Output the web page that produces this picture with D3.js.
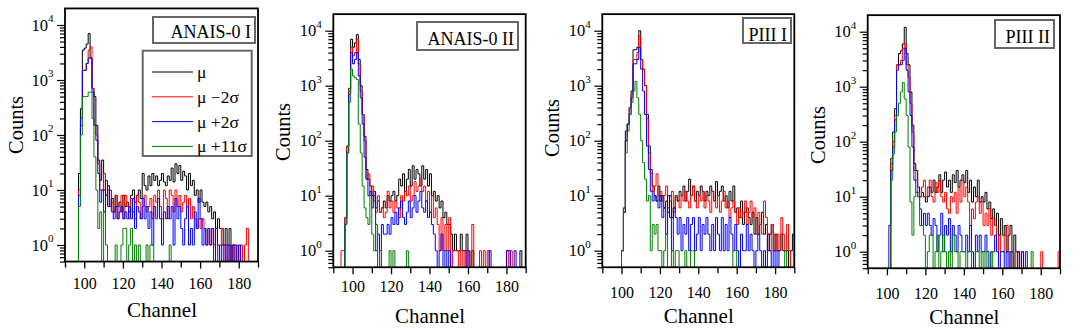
<!DOCTYPE html>
<html>
<head>
<meta charset="utf-8">
<script src="https://cdnjs.cloudflare.com/ajax/libs/d3/7.8.5/d3.min.js"></script>
<style>
  body { margin: 0; background: #fff; }
  svg text { font-family: "Liberation Serif", "Times New Roman", serif; fill: #000; }
</style>
</head>
<body>
<svg id="chart" width="1084" height="331"></svg>
<script>
// counts per channel, each array starts at its panel's first channel
const p1Start = 96; // ANAIS-0 I, channels 96..185
const p1Mu = [0, 20, 300, 3500, 3800, 4500, 7000, 2500, 700, 500,
  150, 35, 15, 35, 10, 8, 12, 5, 7, 4,
  8, 5, 6, 4, 8, 5, 6, 4, 8, 10,
  6, 8, 10, 7, 20, 12, 10, 18, 12, 20,
  15, 18, 12, 15, 20, 14, 12, 18, 15, 25,
  14, 30, 20, 28, 15, 22, 18, 10, 20, 12,
  15, 8, 10, 6, 10, 6, 5, 6, 4, 5,
  3, 4, 2, 3, 2, 2, 1, 2, 1, 2,
  0, 1, 0, 0, 0, 0, 0, 0, 0, 0];
const p1Minus2 = [0, 10, 150, 1500, 1500, 2000, 3500, 4000, 700, 150,
  100, 30, 10, 10, 20, 8, 10, 5, 6, 4,
  8, 3, 6, 8, 3, 8, 5, 3, 7, 4,
  3, 8, 6, 3, 5, 8, 4, 5, 7, 3,
  8, 6, 10, 5, 3, 10, 7, 3, 10, 8,
  4, 10, 5, 8, 4, 6, 8, 5, 7, 3,
  5, 3, 2, 3, 2, 3, 2, 1, 2, 1,
  2, 1, 2, 0, 1, 2, 1, 0, 1, 0,
  1, 1, 0, 1, 0, 1, 0, 1, 2, 0];
const p1Plus2 = [0, 8, 200, 1500, 1500, 2000, 2500, 2500, 600, 150,
  80, 20, 6, 10, 4, 15, 5, 10, 4, 3,
  5, 3, 4, 5, 3, 4, 3, 5, 3, 7,
  2, 5, 4, 3, 7, 3, 5, 2, 4, 1,
  5, 3, 7, 3, 1, 4, 3, 5, 3, 5,
  1, 7, 3, 5, 2, 1, 3, 5, 1, 2,
  1, 4, 2, 7, 3, 1, 2, 1, 2, 1,
  2, 0, 2, 1, 0, 1, 0, 1, 0, 1,
  0, 1, 1, 0, 1, 0, 0, 0, 0, 0];
const p1Plus11 = [0, 5, 100, 500, 500, 500, 600, 600, 200, 40,
  10, 2, 4, 0, 4, 1, 0, 0, 0, 0,
  1, 0, 0, 1, 2, 2, 0, 1, 2, 0,
  1, 0, 1, 0, 0, 0, 1, 0, 1, 1,
  0, 0, 0, 0, 0, 0, 0, 0, 1, 0,
  0, 0, 0, 0, 0, 0, 0, 0, 0, 0,
  0, 0, 0, 0, 0, 0, 0, 0, 0, 0,
  0, 0, 0, 0, 0, 0, 0, 0, 0, 0,
  0, 0, 0, 0, 0, 0, 0, 0, 0, 0];

const p2Start = 94; // ANAIS-0 II, channels 94..189
const p2Mu = [0, 0, 4, 80, 900, 7000, 5000, 6000, 8500, 3000,
  1000, 300, 120, 30, 20, 15, 10, 12, 6, 8,
  5, 6, 8, 6, 10, 8, 10, 12, 8, 10,
  20, 15, 25, 12, 20, 30, 15, 35, 20, 30,
  25, 15, 35, 20, 30, 15, 25, 10, 12, 8,
  10, 6, 8, 4, 5, 3, 3, 2, 1, 2,
  1, 1, 2, 1, 1, 2, 1, 0, 1, 0,
  0, 0, 0, 0, 0, 0, 0, 0, 0, 0,
  0, 0, 0, 0, 0, 0, 0, 0, 0, 0,
  0, 0, 0, 1, 0, 0];
const p2Minus2 = [1, 1, 4, 80, 800, 5000, 3500, 4000, 7000, 2500,
  800, 300, 100, 20, 25, 10, 15, 8, 5, 10,
  5, 6, 4, 5, 12, 6, 8, 5, 8, 6,
  4, 10, 8, 12, 10, 15, 8, 10, 18, 12,
  15, 20, 12, 15, 8, 12, 5, 10, 4, 6,
  3, 1, 4, 1, 3, 1, 4, 0, 1, 1,
  1, 0, 1, 0, 1, 0, 1, 0, 3, 0,
  0, 0, 1, 0, 1, 0, 1, 0, 0, 0,
  0, 0, 0, 0, 0, 0, 1, 0, 1, 0,
  0, 0, 0, 0, 0, 0];
const p2Plus2 = [0, 0, 3, 60, 700, 4000, 2500, 3000, 4000, 1500,
  600, 200, 50, 20, 10, 12, 6, 10, 1, 2,
  0, 3, 2, 2, 3, 2, 4, 3, 5, 3,
  6, 8, 4, 3, 5, 8, 4, 6, 10, 5,
  8, 12, 6, 5, 8, 4, 5, 3, 2, 1,
  0, 1, 2, 0, 1, 0, 1, 0, 0, 0,
  0, 0, 0, 0, 0, 1, 0, 0, 0, 0,
  0, 0, 0, 0, 0, 0, 0, 1, 0, 0,
  0, 0, 0, 0, 0, 0, 1, 1, 0, 0,
  1, 0, 0, 0, 0, 0];
const p2Plus11 = [0, 0, 3, 60, 500, 2000, 1500, 1400, 1300, 200,
  60, 15, 6, 4, 3, 10, 2, 1, 3, 0,
  1, 0, 0, 0, 0, 1, 0, 1, 0, 0,
  0, 0, 0, 0, 1, 0, 0, 0, 0, 0,
  0, 0, 0, 0, 0, 0, 0, 0, 0, 0,
  0, 0, 0, 0, 0, 0, 0, 0, 0, 0,
  0, 0, 0, 0, 0, 0, 0, 0, 0, 0,
  0, 0, 0, 0, 0, 0, 0, 0, 0, 0,
  0, 0, 0, 0, 0, 0, 0, 0, 0, 0,
  0, 0, 0, 0, 0, 0];

const p3Start = 100; // PIII I, channels 100..189
const p3Mu = [1, 6, 150, 200, 400, 800, 4500, 4500, 5000, 10000,
  3000, 2000, 1000, 300, 80, 30, 15, 10, 8, 15,
  8, 10, 6, 8, 5, 10, 4, 6, 10, 8,
  12, 10, 15, 8, 12, 20, 10, 15, 8, 12,
  10, 15, 12, 8, 12, 10, 15, 12, 8, 18,
  10, 12, 15, 8, 10, 6, 12, 8, 15, 5,
  6, 4, 8, 3, 5, 6, 4, 3, 5, 2,
  4, 2, 3, 5, 2, 3, 1, 2, 3, 1,
  2, 1, 1, 2, 1, 1, 1, 0, 1, 2];
const p3Minus2 = [1, 5, 100, 200, 400, 700, 3000, 3000, 4000, 8000,
  3000, 2000, 1000, 250, 60, 25, 12, 15, 25, 10,
  12, 8, 10, 15, 6, 8, 12, 5, 10, 8,
  6, 10, 8, 12, 8, 6, 10, 15, 8, 6,
  10, 8, 12, 6, 10, 8, 5, 12, 8, 6,
  10, 5, 8, 12, 6, 8, 4, 6, 8, 5,
  3, 6, 4, 5, 8, 3, 5, 8, 4, 6,
  2, 5, 3, 2, 8, 4, 2, 1, 3, 2,
  1, 2, 1, 4, 2, 1, 3, 1, 0, 0];
const p3Plus2 = [1, 5, 100, 200, 300, 600, 2500, 2500, 3000, 5000,
  2000, 800, 300, 80, 30, 12, 8, 10, 8, 6,
  10, 4, 6, 2, 10, 4, 1, 6, 4, 2,
  4, 1, 3, 2, 4, 1, 3, 4, 1, 2,
  4, 1, 3, 2, 4, 2, 1, 3, 1, 4,
  2, 1, 4, 1, 3, 1, 4, 2, 1, 3,
  1, 0, 2, 1, 1, 3, 1, 2, 1, 0,
  1, 2, 1, 0, 1, 0, 2, 1, 0, 1,
  0, 1, 0, 0, 0, 0, 0, 0, 0, 0];
const p3Plus11 = [1, 6, 60, 150, 300, 500, 800, 1200, 600, 300,
  100, 40, 20, 8, 10, 1, 3, 2, 3, 1,
  1, 0, 1, 2, 0, 0, 1, 0, 1, 1,
  0, 0, 0, 1, 0, 0, 1, 1, 0, 0,
  0, 0, 0, 0, 0, 0, 0, 0, 0, 0,
  0, 0, 0, 0, 0, 0, 0, 0, 1, 1,
  0, 0, 0, 0, 0, 0, 0, 0, 0, 0,
  0, 0, 0, 0, 0, 0, 0, 0, 0, 0,
  0, 0, 0, 0, 0, 1, 0, 0, 0, 0];

const p4Start = 100; // PIII II, channels 100..189
const p4Mu = [0, 0, 50, 150, 400, 2500, 4000, 4500, 6000, 12000,
  4000, 2500, 800, 200, 40, 30, 15, 10, 12, 10,
  8, 10, 15, 12, 20, 12, 15, 25, 12, 20,
  28, 15, 20, 12, 25, 18, 30, 15, 20, 25,
  18, 30, 12, 20, 8, 15, 10, 20, 8, 10,
  8, 12, 6, 8, 4, 6, 3, 5, 2, 4,
  2, 3, 1, 2, 3, 1, 2, 1, 1, 0,
  0, 0, 0, 0, 0, 0, 0, 0, 0, 0,
  0, 0, 0, 0, 0, 0, 0, 0, 0, 0];
const p4Minus2 = [0, 0, 40, 100, 300, 2500, 2500, 3000, 5000, 6000,
  2500, 1500, 500, 150, 30, 20, 12, 10, 15, 20,
  10, 15, 20, 10, 8, 18, 12, 20, 10, 8,
  12, 6, 5, 10, 8, 12, 5, 15, 8, 20,
  10, 15, 8, 3, 6, 4, 8, 10, 5, 8,
  3, 5, 3, 6, 2, 4, 3, 1, 2, 1,
  1, 2, 3, 1, 0, 1, 0, 1, 0, 0,
  1, 0, 0, 0, 0, 0, 0, 0, 0, 0,
  1, 0, 0, 0, 0, 0, 0, 0, 0, 1];
const p4Plus2 = [0, 3, 30, 80, 250, 2000, 2500, 2500, 3000, 5000,
  2000, 800, 300, 80, 20, 12, 10, 6, 3, 5,
  3, 5, 3, 2, 4, 3, 1, 2, 5, 1,
  3, 2, 4, 1, 3, 2, 1, 3, 2, 1,
  1, 2, 1, 3, 1, 0, 2, 1, 2, 1,
  1, 2, 1, 0, 1, 1, 2, 1, 0, 1,
  1, 0, 1, 0, 1, 1, 0, 0, 1, 0,
  1, 0, 1, 0, 0, 0, 0, 0, 0, 0,
  0, 0, 0, 0, 0, 0, 0, 0, 0, 0];
const p4Plus11 = [0, 0, 20, 60, 150, 300, 500, 800, 1200, 600,
  300, 80, 8, 2, 10, 12, 10, 3, 3, 2,
  0, 1, 2, 2, 0, 1, 2, 0, 1, 2,
  1, 0, 1, 0, 2, 1, 1, 0, 1, 1,
  1, 0, 1, 1, 0, 0, 1, 1, 0, 1,
  0, 1, 0, 0, 1, 0, 0, 0, 0, 0,
  0, 0, 0, 0, 0, 1, 0, 0, 0, 0,
  0, 0, 0, 0, 0, 1, 0, 0, 0, 0,
  0, 0, 0, 0, 0, 0, 0, 0, 0, 0];

const seriesNames = ["\u03bc", "\u03bc \u22122\u03c3", "\u03bc +2\u03c3", "\u03bc +11\u03c3"];
const seriesColors = ["#000000", "#ff0000", "#0000ff", "#008000"];
const panelTitles = ["ANAIS-0 I", "ANAIS-0 II", "PIII I", "PIII II"];
const xTicks = [90, 100, 110, 120, 130, 140, 150, 160, 170, 180, 190];
const xLabels = [100, 120, 140, 160, 180];
const yMajor = [1, 10, 100, 1000, 10000];
const yExp = ["0", "1", "2", "3", "4"];

// layout of each panel (pixels)
const panels = [
  { start: p1Start, series: [p1Mu, p1Minus2, p1Plus2, p1Plus11], left: 65, right: 258, one: 245,
    tickDy: 27, chanY: 317, countsX: 23, countsY: 125, box: [153, 17, 102, 26], titleY: 38.3, legend: true },
  { start: p2Start, series: [p2Mu, p2Minus2, p2Plus2, p2Plus11], left: 333.3, right: 525.7, one: 250.7,
    tickDy: 25, chanY: 323, countsX: 290, countsY: 132, box: [417, 22, 101, 28], titleY: 45 },
  { start: p3Start, series: [p3Mu, p3Minus2, p3Plus2, p3Plus11], left: 602.3, right: 794.3, one: 250.7,
    tickDy: 30.5, chanY: 322.7, countsX: 559, countsY: 128, box: [743, 18, 48, 25], titleY: 40.7 },
  { start: p4Start, series: [p4Mu, p4Minus2, p4Plus2, p4Plus11], left: 867.7, right: 1060, one: 251.7,
    tickDy: 30.5, chanY: 324, countsX: 825, countsY: 135, box: [995, 20, 59, 28], titleY: 43.3 }
];
const decade = 55;

const svg = d3.select("#chart");

panels.forEach((p, pi) => {
  const top = p.one - Math.log10(2e4) * decade;
  const bottom = p.one + Math.log10(2) * decade;
  const x = d3.scaleLinear().domain([90, 190]).range([p.left, p.right]);
  const y = d3.scaleLog().domain([0.5, 2e4]).range([bottom, top]);
  const g = svg.append("g");

  const clipId = "clip" + pi;
  svg.append("clipPath").attr("id", clipId)
    .append("rect").attr("x", p.left).attr("y", top)
    .attr("width", p.right - p.left).attr("height", bottom - top);

  const line = d3.line()
    .x(d => x(d[0]))
    .y(d => y(d[1] > 0 ? d[1] : 0.05))
    .curve(d3.curveStepAfter);

  const hist = g.append("g").attr("clip-path", `url(#${clipId})`);
  p.series.forEach((vals, si) => {
    const pts = [[p.start, 0]];
    vals.forEach((v, i) => pts.push([p.start + i, v]));
    pts.push([p.start + vals.length, 0]);
    hist.append("path")
      .attr("d", line(pts))
      .attr("fill", "none")
      .attr("stroke", seriesColors[si])
      .attr("stroke-width", 1);
  });

  // x axis
  const xAxis = d3.axisBottom(x).tickValues(xTicks).tickSizeOuter(0)
    .tickFormat(d => xLabels.includes(d) ? d : "");
  const xg = g.append("g").attr("transform", `translate(0,${bottom})`).call(xAxis);
  xg.select(".domain").remove();
  xg.selectAll(".tick line").attr("stroke-width", 1.3)
    .attr("y2", d => xLabels.includes(d) ? 7 : 6);
  xg.selectAll(".tick text").attr("y", p.tickDy).attr("dy", 0)
    .style("font-size", "16px");

  // y axis with log minor ticks
  const minor = [];
  [0.1, 1, 10, 100, 1000].forEach(b => {
    for (let k = 2; k <= 9; k++) {
      const v = b * k;
      if (v >= 0.5 && v < 2e4) minor.push(v);
    }
  });
  const yAxis = d3.axisLeft(y).tickValues(yMajor.concat(minor)).tickSizeOuter(0).tickFormat("");
  const yg = g.append("g").attr("transform", `translate(${p.left},0)`).call(yAxis);
  yg.select(".domain").remove();
  yg.selectAll(".tick line").attr("stroke-width", 1.2)
    .attr("x2", d => yMajor.includes(d) ? -8 : -5);

  const yl = g.append("g").selectAll("text").data(yMajor).join("text")
    .attr("x", p.left - 11.5)
    .attr("y", d => y(d) + 5.5)
    .attr("text-anchor", "end")
    .style("font-size", "16.5px");
  yl.append("tspan").text("10");
  yl.append("tspan").attr("dy", -8.5).style("font-size", "11px").text((d, i) => yExp[i]);

  // frame
  g.append("rect")
    .attr("x", p.left).attr("y", top)
    .attr("width", p.right - p.left).attr("height", bottom - top)
    .attr("fill", "none").attr("stroke", "#000").attr("stroke-width", 1.8);

  // axis titles
  g.append("text")
    .attr("x", (p.left + p.right) / 2 + 0.5).attr("y", p.chanY)
    .attr("text-anchor", "middle").style("font-size", "21px").text("Channel");
  g.append("text")
    .attr("transform", `translate(${p.countsX},${p.countsY}) rotate(-90)`)
    .attr("text-anchor", "middle").style("font-size", "20.5px").text("Counts");

  // title box
  const [bx, by, bw, bh] = p.box;
  g.append("rect").attr("x", bx).attr("y", by).attr("width", bw).attr("height", bh)
    .attr("fill", "#fff").attr("stroke", "#666").attr("stroke-width", 2);
  g.append("text").attr("x", bx + bw - 4).attr("y", p.titleY)
    .attr("text-anchor", "end").style("font-size", "18px").text(panelTitles[pi]);

  if (p.legend) {
    const lg = g.append("g");
    lg.append("rect").attr("x", 142.7).attr("y", 50.7).attr("width", 109).attr("height", 105.3)
      .attr("fill", "#fff").attr("stroke", "#666").attr("stroke-width", 2);
    const rows = lg.selectAll("g.row").data(seriesNames).join("g")
      .attr("class", "row")
      .attr("transform", (d, i) => `translate(0,${72 + i * 24.8})`);
    rows.append("line").attr("x1", 152).attr("x2", 193)
      .attr("stroke", (d, i) => seriesColors[i]).attr("stroke-width", 1);
    rows.append("text").attr("x", 197).attr("y", 6)
      .style("font-size", "17.5px").text(d => d);
  }
});
</script>
</body>
</html>
